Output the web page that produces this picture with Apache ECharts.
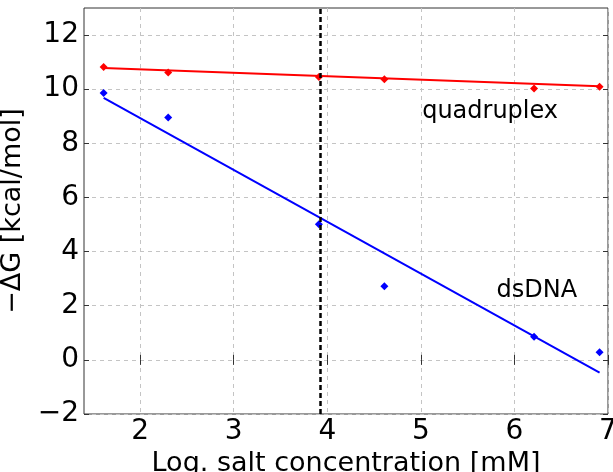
<!DOCTYPE html>
<html>
<head>
<meta charset="utf-8">
<script src="https://cdn.jsdelivr.net/npm/echarts@6/dist/echarts.min.js"></script>
<style>
  html, body { margin: 0; padding: 0; background: #fff; }
  #chart { width: 613px; height: 472px; }
</style>
</head>
<body>
<div id="chart"></div>
<script>
// log of salt concentration (ln of mM)
const saltLog = [1.61, 2.30, 3.91, 4.61, 6.21, 6.91]
const quadG = [10.82, 10.62, 10.45, 10.37, 10.03, 10.09]
const dsG = [9.86, 8.95, 5.01, 2.72, 0.85, 0.28]

// fitted lines, read at the end points
const fitX = [1.61, 6.91]
const quadFit = [10.78, 10.11]
const dsFit = [9.68, -0.47]

const markX = 3.915
const xTicks = [2, 3, 4, 5, 6, 7]
const yTicks = [-2, 0, 2, 4, 6, 8, 10, 12]

const labels = [
  { name: 'quadruplex', x: 5.74, y: 9.15 },
  { name: 'dsDNA', x: 6.24, y: 2.57 }
]

const font = 'DejaVu Sans'
const gridLine = { show: true, lineStyle: { color: '#c4c4c4', type: [4, 4], width: 1 } }
const minus = v => String(v).replace('-', '\u2212')

const chart = echarts.init(document.getElementById('chart'))

const pairs = (xs, ys) => xs.map((x, i) => [x, ys[i]])

chart.setOption({
  animation: false,
  grid: {
    left: 84, right: 5, top: 8, bottom: 58,
    outerBoundsMode: 'none',
    containLabel: false,
    show: true, borderColor: '#333', borderWidth: 1
  },
  xAxis: [
    {
      type: 'value',
      min: 1.4,
      max: 7,
      axisLine: { show: false },
      axisTick: { show: true, inside: true, length: 5, customValues: xTicks, lineStyle: { color: '#333' } },
      axisLabel: { customValues: xTicks, color: '#000', fontSize: 28, fontFamily: font, margin: 4 },
      splitLine: gridLine,
      name: 'Log. salt concentration [mM]',
      nameLocation: 'middle',
      nameGap: 28,
      nameTextStyle: { color: '#000', fontSize: 27, fontFamily: font }
    },
    {
      type: 'value',
      position: 'top',
      min: 1.4,
      max: 7,
      axisLine: { show: false },
      axisTick: { show: true, inside: true, length: 5, customValues: xTicks, lineStyle: { color: '#333' } },
      axisLabel: { show: false, customValues: xTicks },
      splitLine: { show: false }
    }
  ],
  yAxis: [
    {
      type: 'value',
      min: -2,
      max: 13,
      axisLine: { show: false },
      axisTick: { show: true, inside: true, length: 5, customValues: yTicks, lineStyle: { color: '#333' } },
      axisLabel: { customValues: yTicks, formatter: minus, color: '#000', fontSize: 28, fontFamily: font, margin: 5 },
      splitLine: gridLine,
      name: '\u2212\u0394G [kcal/mol]',
      nameLocation: 'middle',
      nameGap: 43,
      nameRotate: 90,
      nameTextStyle: { color: '#000', fontSize: 27, fontFamily: font }
    },
    {
      type: 'value',
      position: 'right',
      min: -2,
      max: 13,
      axisLine: { show: false },
      axisTick: { show: true, inside: true, length: 5, customValues: yTicks, lineStyle: { color: '#333' } },
      axisLabel: { show: false, customValues: yTicks },
      splitLine: { show: false }
    }
  ],
  series: [
    {
      type: 'line',
      data: pairs(fitX, quadFit),
      symbol: 'none',
      lineStyle: { color: '#ff0000', width: 2 },
      z: 3
    },
    {
      type: 'line',
      data: pairs(fitX, dsFit),
      symbol: 'none',
      lineStyle: { color: '#0000ff', width: 2 },
      z: 3,
      markLine: {
        silent: true,
        symbol: 'none',
        label: { show: false },
        lineStyle: { color: '#000', type: [5, 3], width: 2.5 },
        data: [{ xAxis: markX }]
      }
    },
    {
      type: 'scatter',
      data: pairs(saltLog, quadG),
      symbol: 'diamond',
      symbolSize: 8,
      itemStyle: { color: '#ff0000', opacity: 1 },
      z: 4
    },
    {
      type: 'scatter',
      data: pairs(saltLog, dsG),
      symbol: 'diamond',
      symbolSize: 8,
      itemStyle: { color: '#0000ff', opacity: 1 },
      z: 4
    },
    {
      type: 'scatter',
      data: labels.map(l => ({ name: l.name, value: [l.x, l.y] })),
      symbolSize: 0,
      silent: true,
      itemStyle: { opacity: 1 },
      label: {
        show: true,
        position: 'inside',
        formatter: p => p.name,
        color: '#000',
        opacity: 1,
        fontSize: 24,
        fontFamily: font
      },
      z: 5
    }
  ]
})
</script>
</body>
</html>
